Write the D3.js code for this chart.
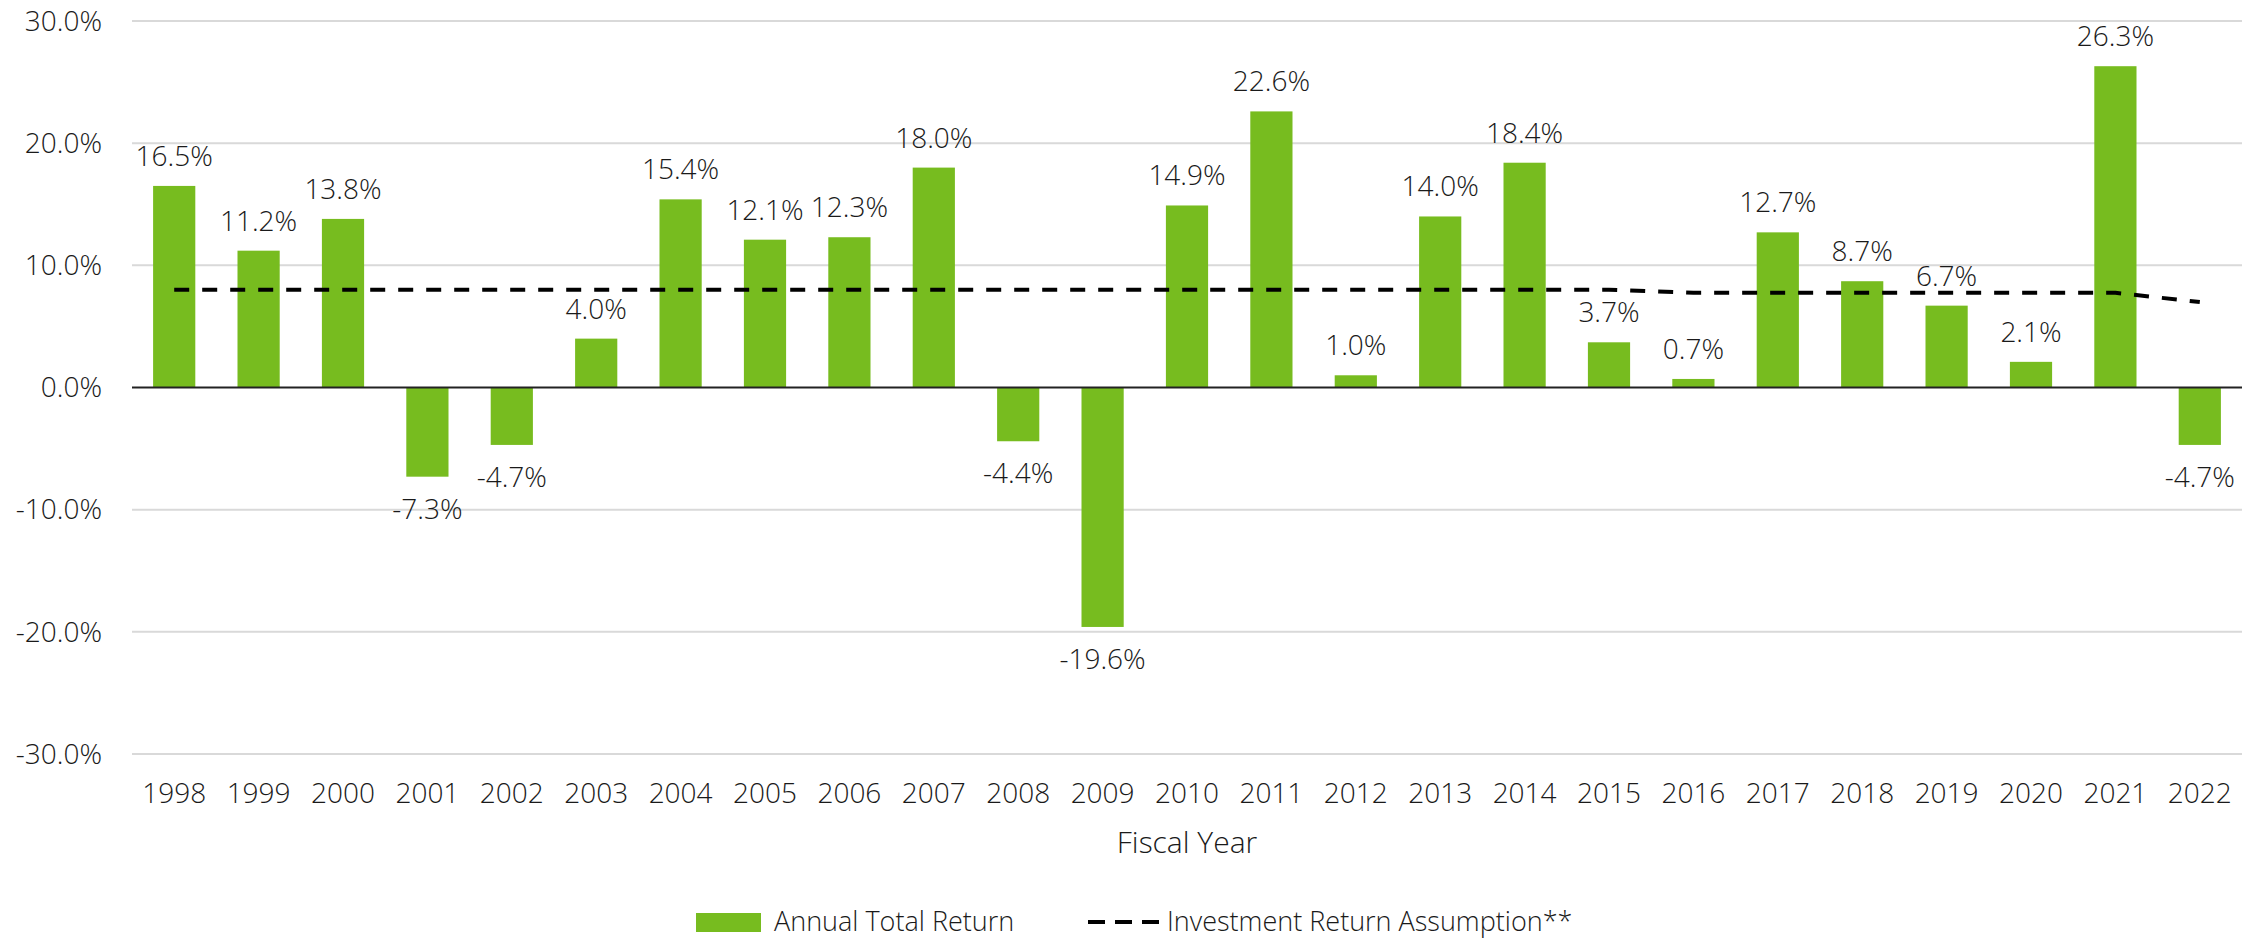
<!DOCTYPE html>
<html>
<head>
<meta charset="utf-8">
<title>Annual Total Return</title>
<script src="https://cdn.jsdelivr.net/npm/d3@7"></script>
<style>
body { margin: 0; background: #fff; }
text { font-family: "Open Sans", sans-serif; font-weight: 300; fill: #1a1a1a; }
.grid line { stroke: #d9d9d9; stroke-width: 2px; }
</style>
</head>
<body>
<script>
var width = 2259,
    height = 938,
    margin = {top: 21, right: 17, bottom: 184, left: 132};

var years = ["1998","1999","2000","2001","2002","2003","2004","2005","2006","2007","2008","2009","2010",
             "2011","2012","2013","2014","2015","2016","2017","2018","2019","2020","2021","2022"];
var returns = [16.5, 11.2, 13.8, -7.3, -4.7, 4.0, 15.4, 12.1, 12.3, 18.0, -4.4, -19.6, 14.9,
               22.6, 1.0, 14.0, 18.4, 3.7, 0.7, 12.7, 8.7, 6.7, 2.1, 26.3, -4.7];
var assumption = [8.0, 8.0, 8.0, 8.0, 8.0, 8.0, 8.0, 8.0, 8.0, 8.0, 8.0, 8.0, 8.0,
                  8.0, 8.0, 8.0, 8.0, 8.0, 7.75, 7.75, 7.75, 7.75, 7.75, 7.75, 7.0];
var yTicks = [-30, -20, -10, 0, 10, 20, 30];

var svg = d3.select("body").append("svg").attr("width", width).attr("height", height);

var x = d3.scaleBand().domain(years).range([margin.left, width - margin.right]).paddingInner(0.5).paddingOuter(0.25);
var y = d3.scaleLinear().domain([-30, 30]).range([height - margin.bottom, margin.top]);

// gridlines
svg.append("g").attr("class", "grid")
  .selectAll("line").data(yTicks.filter(function(d){ return d !== 0; })).enter().append("line")
  .attr("x1", margin.left).attr("x2", width - margin.right)
  .attr("y1", function(d){ return y(d); }).attr("y2", function(d){ return y(d); });

// y axis labels
svg.append("g").selectAll("text").data(yTicks).enter().append("text")
  .attr("x", 102).attr("y", function(d){ return y(d); })
  .attr("dy", "0.35em").attr("text-anchor", "end").style("font-size", "28px")
  .text(function(d){ return d.toFixed(1) + "%"; });

// bars
svg.append("g").selectAll("rect").data(returns).enter().append("rect")
  .attr("x", function(d, i){ return x(years[i]); })
  .attr("width", x.bandwidth())
  .attr("y", function(d){ return y(Math.max(0, d)); })
  .attr("height", function(d){ return Math.abs(y(d) - y(0)); })
  .attr("fill", "#77bc1f");

// zero line
svg.append("line")
  .attr("x1", margin.left).attr("x2", width - margin.right)
  .attr("y1", y(0)).attr("y2", y(0))
  .attr("stroke", "#222").attr("stroke-width", 2);

// bar labels
svg.append("g").selectAll("text").data(returns).enter().append("text")
  .attr("x", function(d, i){ return x(years[i]) + x.bandwidth() / 2; })
  .attr("y", function(d){ return d >= 0 ? y(d) - 20 : y(d) + 42; })
  .attr("text-anchor", "middle").style("font-size", "28px")
  .text(function(d){ return d.toFixed(1) + "%"; });

// assumption line
var line = d3.line()
  .x(function(d, i){ return x(years[i]) + x.bandwidth() / 2; })
  .y(function(d){ return y(d); });

svg.append("path").datum(assumption)
  .attr("d", line)
  .attr("fill", "none").attr("stroke", "#000").attr("stroke-width", 4)
  .attr("stroke-dasharray", "15,13");

// x axis labels
svg.append("g").selectAll("text").data(years).enter().append("text")
  .attr("x", function(d){ return x(d) + x.bandwidth() / 2; })
  .attr("y", 803)
  .attr("text-anchor", "middle").style("font-size", "28px")
  .text(function(d){ return d; });

svg.append("text")
  .attr("x", (margin.left + width - margin.right) / 2).attr("y", 853)
  .attr("text-anchor", "middle").style("font-size", "30px")
  .text("Fiscal Year");

// legend
var legend = svg.append("g");
legend.append("rect").attr("x", 696).attr("y", 913).attr("width", 65).attr("height", 19).attr("fill", "#77bc1f");
legend.append("text").attr("x", 774).attr("y", 931).style("font-size", "27px").text("Annual Total Return");
legend.append("line").attr("x1", 1088).attr("x2", 1161).attr("y1", 922).attr("y2", 922)
  .attr("stroke", "#000").attr("stroke-width", 4).attr("stroke-dasharray", "17,10");
legend.append("text").attr("x", 1167).attr("y", 931).style("font-size", "27px").text("Investment Return Assumption**");
</script>
</body>
</html>
